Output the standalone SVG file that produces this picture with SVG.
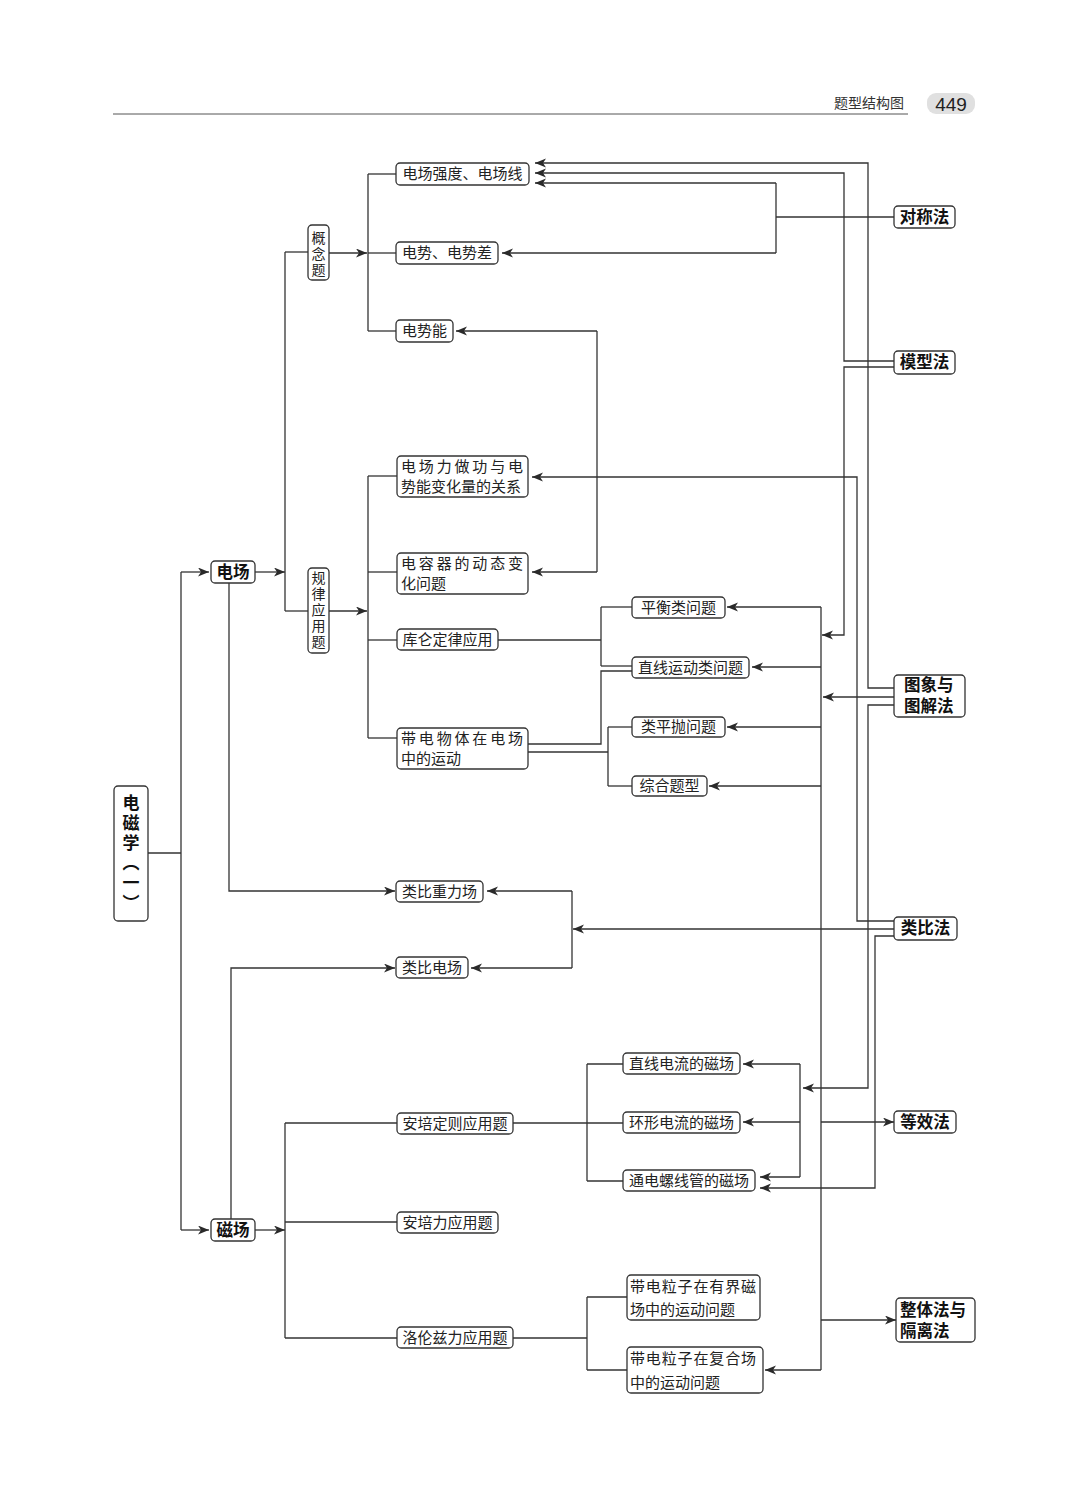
<svg xmlns="http://www.w3.org/2000/svg" width="1080" height="1501" viewBox="0 0 1080 1501">
<defs>
<marker id="ar" markerUnits="userSpaceOnUse" markerWidth="12" markerHeight="10" refX="11" refY="4.5" orient="auto">
<path d="M0,0 L11,4.5 L0,9 L3,4.5 z" fill="#2a2a2a"/>
</marker>
<style>
.bx{fill:#fff;stroke:#333;stroke-width:1.3}
.t{font-family:"Noto Sans CJK SC","Noto Sans",sans-serif;font-size:15px;fill:#222;text-anchor:middle}
.tv{font-family:"Noto Sans CJK SC","Noto Sans",sans-serif;font-size:14px;fill:#222;writing-mode:vertical-rl;letter-spacing:2px}
.tl{font-family:"Noto Sans CJK SC","Noto Sans",sans-serif;font-size:15px;fill:#222}
.b{font-family:"Noto Sans CJK SC","Noto Sans",sans-serif;font-size:16.5px;font-weight:bold;fill:#111;text-anchor:middle}
.bv{font-family:"Noto Sans CJK SC","Noto Sans",sans-serif;font-size:17px;font-weight:bold;fill:#111;writing-mode:vertical-rl;letter-spacing:3px}
.bl{font-family:"Noto Sans CJK SC","Noto Sans",sans-serif;font-size:16.5px;font-weight:bold;fill:#111}
.c path{fill:none;stroke:#333;stroke-width:1.3}
.c path.a{marker-end:url(#ar)}
</style>
</defs>
<rect width="1080" height="1501" fill="#fff"/>

<g id="header">
<line x1="113" y1="114" x2="908" y2="114" stroke="#555" stroke-width="1"/>
<text x="869" y="108" style="font-family:'Noto Sans CJK SC',sans-serif;font-size:14px;fill:#333;text-anchor:middle">题型结构图</text>
<rect x="927" y="93" width="48" height="21" rx="9" fill="#e0e0e0"/>
<text x="951" y="111" style="font-family:'Liberation Sans',sans-serif;font-size:19px;fill:#222;text-anchor:middle">449</text>
</g>

<g class="c" id="connectors">
<path d="M148,853 H181"/>
<path d="M181,572 V1230"/>
<path class="a" d="M181,572 H209"/>
<path class="a" d="M181,1230 H209"/>
<path class="a" d="M255,572 H285"/>
<path d="M285,252 V611"/>
<path d="M285,252 H308"/>
<path d="M285,611 H308"/>
<path class="a" d="M329,253 H367"/>
<path d="M368,174 V331"/>
<path d="M368,174 H396"/>
<path d="M368,253 H396"/>
<path d="M368,331 H396"/>
<path class="a" d="M329,611 H367"/>
<path d="M368,476 V738"/>
<path d="M368,476 H397"/>
<path d="M368,572 H397"/>
<path d="M368,640 H397"/>
<path d="M368,738 H397"/>
<path class="a" d="M229,583 V891 H395"/>
<path class="a" d="M231,1219 V968 H395"/>
<path class="a" d="M255,1230 H285"/>
<path d="M285,1123 V1338"/>
<path d="M285,1123 H397"/>
<path d="M285,1222 H397"/>
<path d="M285,1338 H397"/>
<path d="M498,640 H601"/>
<path d="M601,607 V666"/>
<path d="M601,607 H632"/>
<path d="M601,666 H632"/>
<path d="M528,744 H601 V671 H632"/>
<path d="M528,752 H608"/>
<path d="M608,727 V786"/>
<path d="M608,727 H632"/>
<path d="M608,786 H632"/>
<path d="M513,1123 H623"/>
<path d="M587,1064 V1181"/>
<path d="M587,1064 H623"/>
<path d="M587,1181 H623"/>
<path d="M513,1338 H587"/>
<path d="M587,1297 V1370"/>
<path d="M587,1297 H627"/>
<path d="M587,1370 H627"/>
<path d="M597,331 V572"/>
<path class="a" d="M597,331 H456"/>
<path class="a" d="M597,572 H532"/>
<path d="M894,217 H776"/>
<path d="M776,183 V253"/>
<path class="a" d="M776,183 H535"/>
<path class="a" d="M776,253 H502"/>
<path class="a" d="M894,361 H844 V173 H535"/>
<path class="a" d="M894,367 H844 V635 H822"/>
<path class="a" d="M894,688 H868 V163 H535"/>
<path class="a" d="M894,697 H823"/>
<path class="a" d="M894,705 H868 V1088 H803"/>
<path class="a" d="M894,921 H857 V477 H532"/>
<path class="a" d="M894,929 H573"/>
<path d="M572,891 V968"/>
<path class="a" d="M572,891 H487"/>
<path class="a" d="M572,968 H471"/>
<path class="a" d="M894,936 H875 V1188 H760"/>
<path d="M821,607 V1370"/>
<path class="a" d="M821,607 H727"/>
<path class="a" d="M821,667 H752"/>
<path class="a" d="M821,727 H727"/>
<path class="a" d="M821,786 H709"/>
<path class="a" d="M821,1370 H765"/>
<path class="a" d="M821,1122 H894"/>
<path class="a" d="M821,1320 H896"/>
<path d="M800,1064 V1177"/>
<path class="a" d="M800,1064 H743"/>
<path class="a" d="M800,1122 H743"/>
<path class="a" d="M800,1177 H760"/>
</g>

<g id="n-root"><rect class="bx" x="114" y="786" width="34" height="135" rx="4"/>
<text class="bv" x="131" y="794">电磁学（一）</text></g>

<g id="n-dianchang"><rect class="bx" x="211" y="561" width="44" height="22" rx="4"/><text class="b" x="233" y="578">电场</text></g>
<g id="n-cichang"><rect class="bx" x="211" y="1219" width="44" height="22" rx="4"/><text class="b" x="233" y="1236">磁场</text></g>

<g id="n-gainian"><rect class="bx" x="308" y="225" width="21" height="55" rx="4"/>
<text class="tv" x="318.5" y="231">概念题</text></g>
<g id="n-guilv"><rect class="bx" x="308" y="568" width="21" height="85" rx="4"/>
<text class="tv" x="318.5" y="571">规律应用题</text></g>

<g id="n-qiangdu"><rect class="bx" x="396" y="163" width="133" height="22" rx="4"/><text class="t" x="462.5" y="179">电场强度、电场线</text></g>
<g id="n-dianshi"><rect class="bx" x="396" y="242" width="102" height="22" rx="4"/><text class="t" x="447" y="258">电势、电势差</text></g>
<g id="n-shineng"><rect class="bx" x="396" y="320" width="57" height="22" rx="4"/><text class="t" x="424.5" y="336">电势能</text></g>

<g id="n-zuogong"><rect class="bx" x="397" y="456" width="131" height="41" rx="4"/>
<text class="tl" x="401" y="472" textLength="122" lengthAdjust="spacing">电场力做功与电</text>
<text class="tl" x="401" y="492">势能变化量的关系</text></g>
<g id="n-dianrong"><rect class="bx" x="397" y="553" width="131" height="41" rx="4"/>
<text class="tl" x="401" y="569" textLength="122" lengthAdjust="spacing">电容器的动态变</text>
<text class="tl" x="401" y="589">化问题</text></g>
<g id="n-kulun"><rect class="bx" x="397" y="629" width="101" height="21" rx="4"/><text class="t" x="447.5" y="645">库仑定律应用</text></g>
<g id="n-daidian"><rect class="bx" x="397" y="728" width="131" height="41" rx="4"/>
<text class="tl" x="401" y="744" textLength="122" lengthAdjust="spacing">带电物体在电场</text>
<text class="tl" x="401" y="764">中的运动</text></g>

<g id="n-pingheng"><rect class="bx" x="632" y="597" width="93" height="21" rx="4"/><text class="t" x="678.5" y="613">平衡类问题</text></g>
<g id="n-zhixian"><rect class="bx" x="632" y="657" width="117" height="21" rx="4"/><text class="t" x="690.5" y="673">直线运动类问题</text></g>
<g id="n-leipingpao"><rect class="bx" x="632" y="717" width="93" height="20" rx="4"/><text class="t" x="678.5" y="732">类平抛问题</text></g>
<g id="n-zonghe"><rect class="bx" x="632" y="776" width="75" height="20" rx="4"/><text class="t" x="669.5" y="791">综合题型</text></g>

<g id="n-zhongli"><rect class="bx" x="396" y="881" width="87" height="21" rx="4"/><text class="t" x="439.5" y="897">类比重力场</text></g>
<g id="n-leidianchang"><rect class="bx" x="396" y="957" width="72" height="21" rx="4"/><text class="t" x="432" y="973">类比电场</text></g>

<g id="n-anpeiding"><rect class="bx" x="397" y="1113" width="116" height="21" rx="4"/><text class="t" x="455" y="1129">安培定则应用题</text></g>
<g id="n-anpeili"><rect class="bx" x="397" y="1212" width="101" height="21" rx="4"/><text class="t" x="447.5" y="1228">安培力应用题</text></g>
<g id="n-luolunzi"><rect class="bx" x="397" y="1327" width="116" height="21" rx="4"/><text class="t" x="455" y="1343">洛伦兹力应用题</text></g>

<g id="n-zhixiandl"><rect class="bx" x="623" y="1053" width="117" height="21" rx="4"/><text class="t" x="681.5" y="1069">直线电流的磁场</text></g>
<g id="n-huanxing"><rect class="bx" x="623" y="1112" width="117" height="21" rx="4"/><text class="t" x="681.5" y="1128">环形电流的磁场</text></g>
<g id="n-luoxianguan"><rect class="bx" x="623" y="1170" width="132" height="21" rx="4"/><text class="t" x="689" y="1186">通电螺线管的磁场</text></g>

<g id="n-youjie"><rect class="bx" x="627" y="1275" width="133" height="45" rx="4"/>
<text class="tl" x="630" y="1292" textLength="126" lengthAdjust="spacing">带电粒子在有界磁</text>
<text class="tl" x="630" y="1315">场中的运动问题</text></g>
<g id="n-fuhe"><rect class="bx" x="627" y="1347" width="136" height="46" rx="4"/>
<text class="tl" x="630" y="1364" textLength="126" lengthAdjust="spacing">带电粒子在复合场</text>
<text class="tl" x="630" y="1388">中的运动问题</text></g>

<g id="m-duicheng"><rect class="bx" x="894" y="206" width="61" height="22" rx="4"/><text class="b" x="924.5" y="223">对称法</text></g>
<g id="m-moxing"><rect class="bx" x="894" y="351" width="61" height="23" rx="4"/><text class="b" x="924.5" y="368">模型法</text></g>
<g id="m-tuxiang"><rect class="bx" x="894" y="675" width="71" height="42" rx="4"/>
<text class="bl" x="904" y="691">图象与</text><text class="bl" x="904" y="712">图解法</text></g>
<g id="m-leibi"><rect class="bx" x="894" y="917" width="63" height="23" rx="4"/><text class="b" x="925.5" y="934">类比法</text></g>
<g id="m-dengxiao"><rect class="bx" x="894" y="1111" width="62" height="22" rx="4"/><text class="b" x="925" y="1128">等效法</text></g>
<g id="m-zhengti"><rect class="bx" x="896" y="1298" width="79" height="44" rx="4"/>
<text class="bl" x="900" y="1316">整体法与</text><text class="bl" x="900" y="1337">隔离法</text></g>
</svg>
